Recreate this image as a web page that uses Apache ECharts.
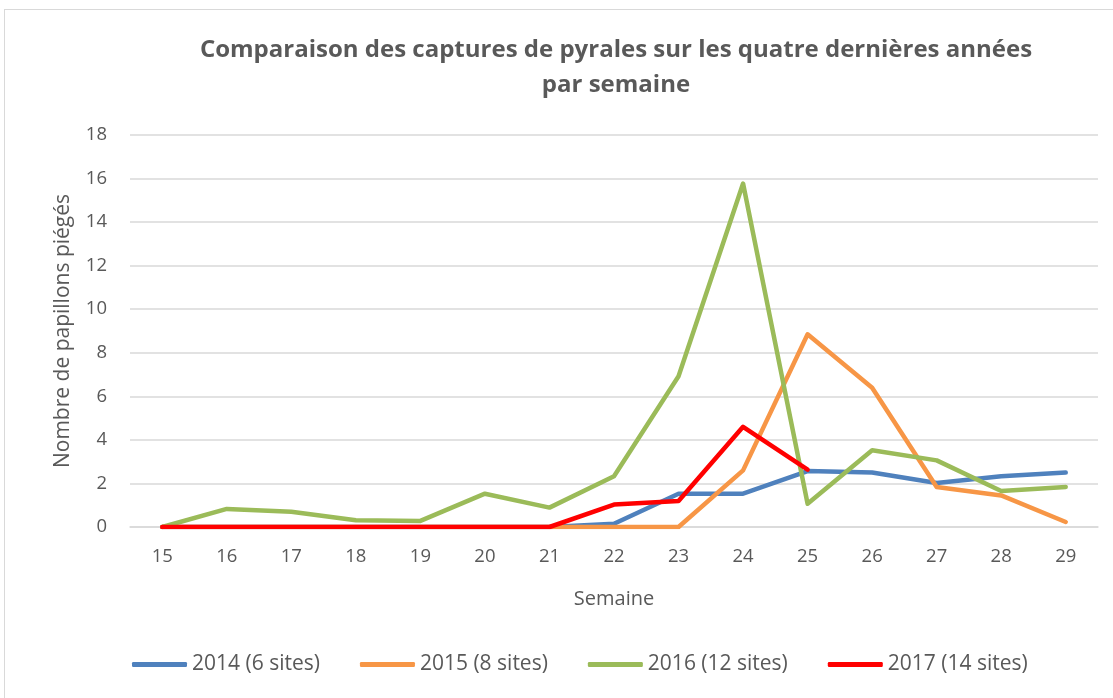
<!DOCTYPE html>
<html><head><meta charset="utf-8">
<script src="https://cdn.jsdelivr.net/npm/echarts@6/dist/echarts.min.js"></script>
<style>
html,body{margin:0;padding:0;background:#fff;}
#frame{position:absolute;left:4px;top:9px;width:1120px;height:700px;border:1px solid #d9d9d9;box-sizing:border-box;}
#c{position:absolute;left:0;top:0;width:1113px;height:698px;}
</style></head>
<body><div id="frame"></div><div id="c"></div>
<script>
const weeks = ['15','16','17','18','19','20','21','22','23','24','25','26','27','28','29'];
const s2014 = [0,0,0,0,0,0,0,0.15,1.53,1.53,2.57,2.5,2.02,2.33,2.5];
const s2015 = [0,0,0,0,0,0,0,0,0,2.6,8.85,6.39,1.84,1.45,0.23];
const s2016 = [0,0.83,0.7,0.31,0.28,1.53,0.89,2.33,6.92,15.77,1.07,3.52,3.06,1.65,1.84];
const s2017 = [0,0,0,0,0,0,0,1.03,1.19,4.6,2.63,null,null,null,null];
const names = ['2014 (6 sites)','2015 (8 sites)','2016 (12 sites)','2017 (14 sites)'];
const colors = ['#4f81bd','#f79646','#9bbb59','#ff0000'];
const yTicks = [0,2,4,6,8,10,12,14,16,18];
const font = 'Open Sans';
const chart = echarts.init(document.getElementById('c'), null, {renderer:'canvas'});
const mk = (name, data, color) => ({
  name, type:'line', data, symbol:'none', connectNulls:false,
  lineStyle:{width:4.5, color, cap:'round', join:'round'}, itemStyle:{color}
});
chart.setOption({
  animation:false,
  textStyle:{fontFamily:font},
  title:{
    text:'Comparaison des captures de pyrales sur les quatre dernières années\npar semaine',
    left:611, textAlign:'center', top:28,
    textStyle:{fontFamily:font, fontSize:24, fontWeight:'bold', color:'#595959', lineHeight:35}
  },
  legend:{
    bottom:18, left:127, itemWidth:55, itemHeight:5, itemGap:40,
    icon:'roundRect',
    textStyle:{fontFamily:font, fontSize:21, color:'#595959'},
    data:names
  },
  grid:{left:130, right:15, top:135, bottom:171},
  xAxis:{
    type:'category', data:weeks, boundaryGap:true,
    name:'Semaine', nameLocation:'middle', nameGap:62,
    nameTextStyle:{fontFamily:font, fontSize:20, color:'#595959'},
    axisLine:{lineStyle:{color:'#d9d9d9', width:1.5}},
    axisTick:{show:false},
    axisLabel:{fontFamily:font, fontSize:18.5, color:'#595959', margin:20}
  },
  yAxis:{
    type:'value', min:0, max:18, interval:2,
    name:'Nombre de papillons piégés', nameLocation:'middle', nameGap:56,
    nameTextStyle:{fontFamily:font, fontSize:21, color:'#595959'},
    axisLine:{show:false}, axisTick:{show:false},
    splitLine:{lineStyle:{color:'#d9d9d9', width:1.5}},
    axisLabel:{fontFamily:font, fontSize:18.5, color:'#595959', margin:23,
      formatter:v => yTicks.includes(v) ? String(v) : ''}
  },
  series:[mk(names[0], s2014, colors[0]), mk(names[1], s2015, colors[1]), mk(names[2], s2016, colors[2]), mk(names[3], s2017, colors[3])]
});
</script></body></html>
